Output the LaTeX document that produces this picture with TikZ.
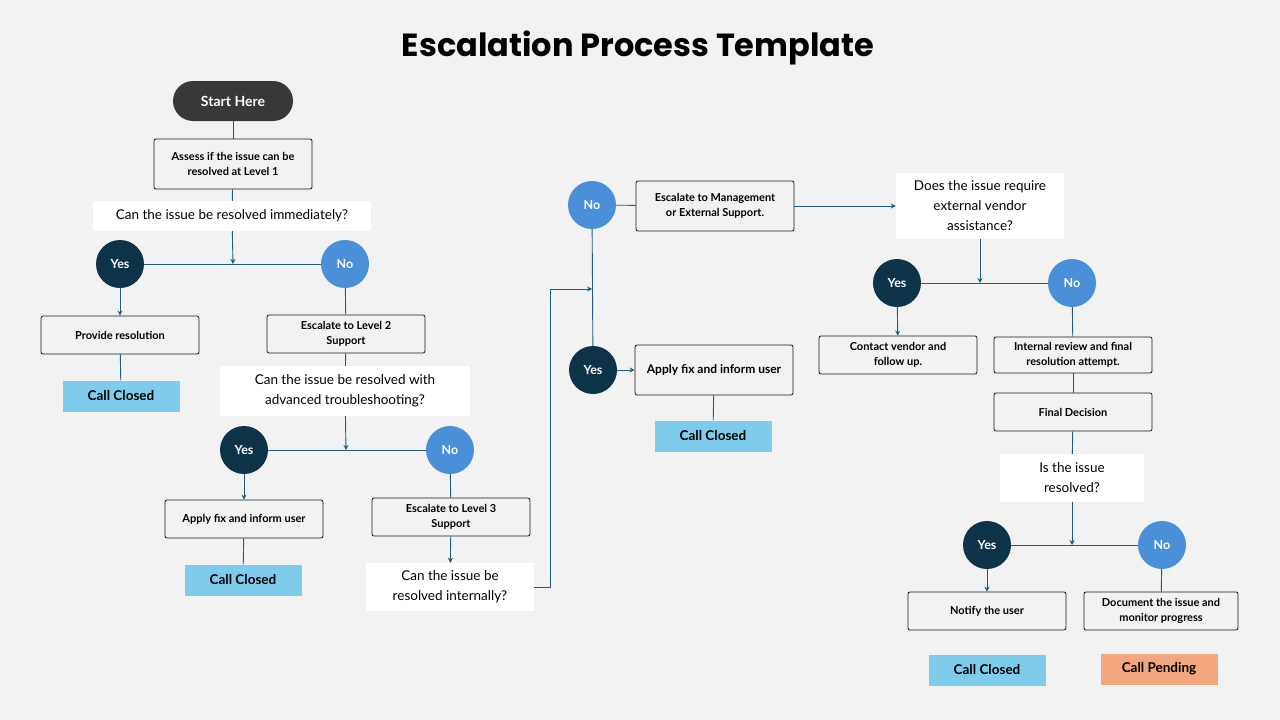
\documentclass[tikz,border=0pt]{standalone}
\usepackage{fontspec}
\setmainfont{Lato}[BoldFont={Lato Bold}]
\newfontfamily\titlefont{Poppins}
\usetikzlibrary{positioning}
\usetikzlibrary{arrows.meta}
\definecolor{bgcol}{HTML}{F2F2F2}
\definecolor{linecol}{HTML}{1F5C7F}
\definecolor{darkcol}{HTML}{0D3349}
\definecolor{lightcol}{HTML}{4A90D9}
\definecolor{closedcol}{HTML}{7FCBEC}
\definecolor{pendcol}{HTML}{F4A67E}
\tikzset{>={Stealth[length=5pt,width=5pt]}}
\tikzset{
  stepbox/.style={draw=black!90, line width=0.8pt, rounded corners=2pt, fill=bgcol, minimum width=158pt, minimum height=38pt, align=center, font=\bfseries\fontsize{11}{15}\selectfont, inner sep=2pt},
  question/.style={fill=white, align=center, font=\fontsize{13.5}{20}\selectfont, inner sep=2pt},
  yesdot/.style={circle, fill=darkcol, text=white, minimum size=48pt, font=\bfseries\fontsize{12.5}{14}\selectfont, inner sep=0pt},
  nodot/.style={circle, fill=lightcol, text=white, minimum size=48pt, font=\bfseries\fontsize{12.5}{14}\selectfont, inner sep=0pt},
  endbox/.style={fill=closedcol, minimum width=117pt, minimum height=31pt, font=\bfseries\fontsize{13.5}{15}\selectfont},
  conn/.style={draw=linecol, line width=0.9pt}
}
\begin{document}
\begin{tikzpicture}[x=1pt, y=-1pt]

% Background
\fill[bgcol] (0,0) rectangle (1280,720);
\useasboundingbox (0,0) rectangle (1280,720);

% Title
\node (title) at (638,48) {\titlefont\bfseries\fontsize{32}{38}\selectfont Escalation Process Template};

% Level 1
\node[fill=black!78, text=white, rounded corners=20pt, minimum width=120pt, minimum height=40pt, font=\bfseries\fontsize{14}{16}\selectfont] (start) at (233,101) {Start Here};
\node[stepbox, minimum height=50pt] (assess) at (233,164) {Assess if the issue can be\\resolved at Level 1};
\node[question, minimum width=278pt, minimum height=30pt] (q1) at (232,216) {Can the issue be resolved immediately?};
\node[yesdot] (yes1) at (120,264) {Yes};
\node[nodot] (no1) at (345,264) {No};
\coordinate (j1) at (233,264);
\node[stepbox] (prov) at (120,335) {Provide resolution};
\node[endbox] (cc1) at (121,396) {Call Closed};
\node[stepbox] (esc2) at (346,334) {Escalate to Level 2\\Support};

% Level 2
\node[question, minimum width=250pt, minimum height=50pt] (q2) at (345,391) {Can the issue be resolved with\\advanced troubleshooting?};
\node[yesdot] (yes2) at (244,450) {Yes};
\node[nodot] (no2) at (450,450) {No};
\coordinate (j2) at (346,450);
\node[stepbox] (apply1) at (244,519) {Apply fix and inform user};
\node[endbox] (cc2) at (243,580) {Call Closed};
\node[stepbox] (esc3) at (451,517) {Escalate to Level 3\\Support};
\node[question, minimum width=168pt, minimum height=48pt] (q3) at (450,587) {Can the issue be\\resolved internally?};

% Level 3
\node[nodot] (no3) at (592,205) {No};
\node[yesdot] (yes3) at (593,370) {Yes};
\coordinate (c1) at (550,587);
\coordinate (c2) at (550,289);
\coordinate (j3) at (592,289);
\node[stepbox, minimum height=50pt] (esc4) at (715,206) {Escalate to Management\\or External Support.};
\node[stepbox, minimum height=50pt, font=\bfseries\fontsize{12}{14}\selectfont] (apply2) at (714,370) {Apply fix and inform user};
\node[endbox] (cc3) at (713,436) {Call Closed};

% Vendor
\node[question, minimum width=168pt, minimum height=66pt] (q4) at (980,206) {Does the issue require\\external vendor\\assistance?};
\node[yesdot] (yes4) at (897,283) {Yes};
\node[nodot] (no4) at (1072,283) {No};
\coordinate (j4) at (980,283);
\node[stepbox] (contact) at (898,355) {Contact vendor and\\follow up.};
\node[stepbox, minimum height=36pt] (internal) at (1073,355) {Internal review and final\\resolution attempt.};
\node[stepbox] (final) at (1073,412) {Final Decision};
\node[question, minimum width=144pt, minimum height=48pt] (q5) at (1072,478) {Is the issue\\resolved?};
\node[yesdot] (yes5) at (987,545) {Yes};
\node[nodot] (no5) at (1162,545) {No};
\coordinate (j5) at (1072,545);
\node[stepbox] (notify) at (987,611) {Notify the user};
\node[stepbox, minimum width=154pt] (document) at (1161,611) {Document the issue and\\monitor progress};
\node[endbox] (cc4) at (987,670) {Call Closed};
\node[endbox, fill=pendcol] (cc5) at (1159,669) {Call Pending};

% Connectors
\draw[conn] (start) -- (assess);
\draw[conn] (assess) -- (q1);
\draw[conn, ->] (q1) -- (j1);
\draw[conn] (yes1) -- (no1);
\draw[conn, ->] (yes1) -- (prov);
\draw[conn] (prov) -- (cc1);
\draw[conn] (no1) -- (esc2);
\draw[conn] (esc2) -- (q2);
\draw[conn, ->] (q2) -- (j2);
\draw[conn] (yes2) -- (no2);
\draw[conn, ->] (yes2) -- (apply1);
\draw[conn] (apply1) -- (cc2);
\draw[conn] (no2) -- (esc3);
\draw[conn, ->] (esc3) -- (q3);
\draw[conn, ->] (q3.east) -- (c1) -- (c2) -- (j3);
\draw[conn] (no3) -- (yes3);
\draw[conn] (no3) -- (esc4);
\draw[conn, ->] (esc4) -- (q4);
\draw[conn, ->] (yes3) -- (apply2);
\draw[conn] (apply2) -- (cc3);
\draw[conn, ->] (q4) -- (j4);
\draw[conn] (yes4) -- (no4);
\draw[conn, ->] (yes4) -- (contact);
\draw[conn] (no4) -- (internal);
\draw[conn] (internal) -- (final);
\draw[conn] (final) -- (q5);
\draw[conn, ->] (q5) -- (j5);
\draw[conn] (yes5) -- (no5);
\draw[conn, ->] (yes5) -- (notify);
\draw[conn] (no5) -- (document);

\end{tikzpicture}
\end{document}
